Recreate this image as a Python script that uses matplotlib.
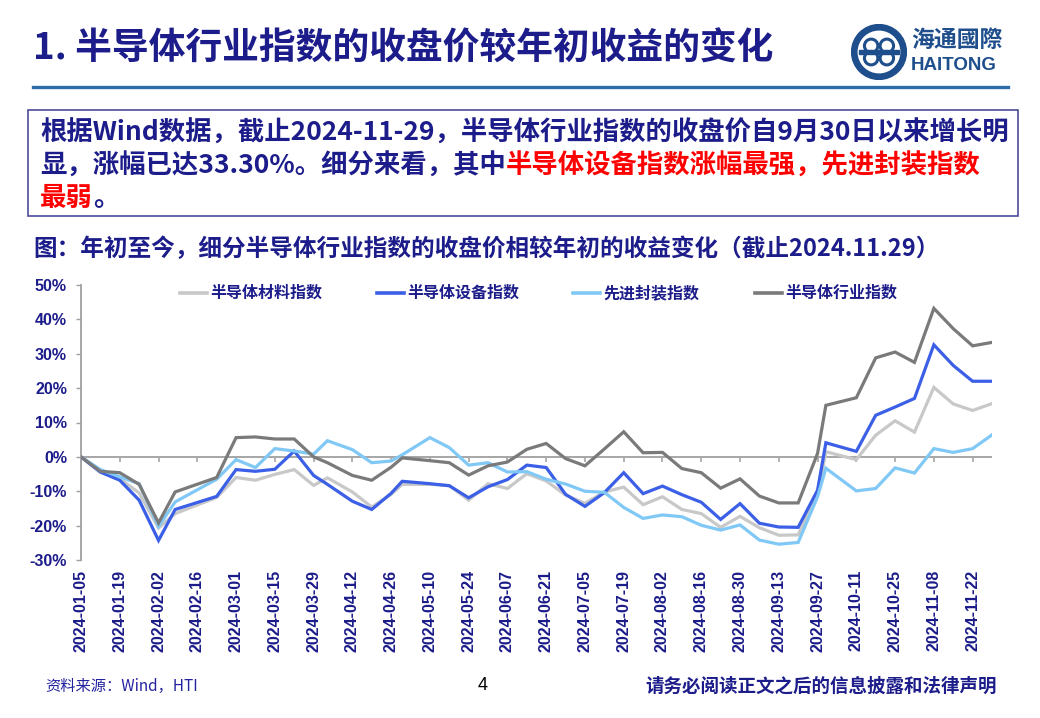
import matplotlib
matplotlib.use('Agg')
import matplotlib.pyplot as plt
import matplotlib.dates as mdates
from matplotlib.lines import Line2D
from matplotlib.patches import Rectangle, Circle
import numpy as np
import datetime as dt

# ---------------- data ----------------
dates = ['2024-01-05', '2024-01-12', '2024-01-19', '2024-01-26', '2024-02-02', '2024-02-08',
         '2024-02-23', '2024-03-01', '2024-03-08', '2024-03-15', '2024-03-22', '2024-03-29',
         '2024-04-03', '2024-04-12', '2024-04-19', '2024-04-26', '2024-04-30', '2024-05-10',
         '2024-05-17', '2024-05-24', '2024-05-31', '2024-06-07', '2024-06-14', '2024-06-21',
         '2024-06-28', '2024-07-05', '2024-07-12', '2024-07-19', '2024-07-26', '2024-08-02',
         '2024-08-09', '2024-08-16', '2024-08-23', '2024-08-30', '2024-09-06', '2024-09-13',
         '2024-09-20', '2024-09-27', '2024-09-30', '2024-10-11', '2024-10-18', '2024-10-25',
         '2024-11-01', '2024-11-08', '2024-11-15', '2024-11-22', '2024-11-29']

materials = [0, -4.5, -6.3, -10.5, -20.7, -16.5, -11.8, -6.0, -6.8, -5.1, -3.7, -8.3,
             -6.1, -10.2, -14.6, -10.9, -8.0, -8.0, -8.3, -12.6, -7.8, -9.2, -4.9, -7.0,
             -11.1, -13.5, -10.2, -8.8, -13.9, -11.6, -15.3, -16.5, -20.5, -17.3, -20.6, -22.8,
             -22.7, -10.8, 1.5, -0.8, 6.3, 10.5, 7.2, 20.2, 15.4, 13.5, 15.5]
equipment = [0, -4.4, -6.8, -12.6, -24.3, -15.3, -11.5, -3.7, -4.2, -3.6, 1.7, -5.4,
             -8.0, -12.9, -15.3, -10.6, -7.1, -7.8, -8.4, -11.9, -8.7, -6.6, -2.4, -3.1,
             -10.9, -14.4, -10.4, -4.6, -10.7, -8.5, -11.0, -13.2, -18.2, -13.6, -19.3, -20.4,
             -20.5, -9.7, 4.1, 1.6, 12.1, 14.5, 17.0, 32.6, 26.6, 22.0, 22.0]
packaging = [0, -3.7, -5.8, -7.8, -20.2, -13.1, -6.5, -0.8, -3.1, 2.4, 1.7, 0.8,
             4.7, 2.1, -1.7, -1.2, 0.6, 5.6, 2.7, -2.4, -1.7, -4.4, -4.3, -6.5,
             -7.9, -10.0, -10.3, -14.7, -17.9, -16.9, -17.4, -19.9, -21.3, -19.8, -24.2, -25.4,
             -24.9, -11.6, -3.3, -9.9, -9.2, -3.2, -4.7, 2.4, 1.3, 2.4, 6.4]
industry = [0, -4.2, -4.6, -8.0, -19.2, -10.2, -6.0, 5.6, 5.8, 5.2, 5.2, 0.0,
            -1.7, -5.4, -6.8, -3.0, -0.3, -1.1, -1.7, -5.3, -2.6, -1.5, 2.2, 3.9,
            -0.5, -2.6, 2.3, 7.3, 1.2, 1.3, -3.4, -4.6, -9.1, -6.4, -11.4, -13.4,
            -13.4, 1.0, 15.0, 17.2, 28.8, 30.5, 27.5, 43.2, 37.3, 32.3, 33.3]

series_names = ['半导体材料指数', '半导体设备指数', '先进封装指数', '半导体行业指数']
series_values = [materials, equipment, packaging, industry]
series_colors = ['#C8C8C8', '#3B5FE6', '#80C8F5', '#7A7A7A']

yticks = [-30, -20, -10, 0, 10, 20, 30, 40, 50]
tick_start = '2024-01-05'
tick_end = '2024-11-22'
tick_step_days = 14

title = '1. 半导体行业指数的收盘价较年初收益的变化'
subtitle = '图：年初至今，细分半导体行业指数的收盘价相较年初的收益变化（截止2024.11.29）'
box_lines = [
    [('根据Wind数据，截止2024-11-29，半导体行业指数的收盘价自9月30日以来增长明', 'n')],
    [('显，涨幅已达33.30%。细分来看，其中', 'n'), ('半导体设备指数涨幅最强，先进封装指数', 'r')],
    [('最弱', 'r'), ('。', 'n')],
]
source = '资料来源：Wind，HTI'
page_no = '4'
disclaimer = '请务必阅读正文之后的信息披露和法律声明'

# ---------------- style ----------------
W, H = 1040, 718
NAVY = '#1C1C8A'
RED = '#FF0000'
CJK = ['Noto Sans CJK SC', 'DejaVu Sans']
LAT = ['Liberation Sans', 'DejaVu Sans']

fig = plt.figure(figsize=(W / 100, H / 100), dpi=100)
fig.patch.set_facecolor('white')


def fx(x):
    return x / W


def fy(y):
    return 1 - y / H


# title
fig.text(fx(33), fy(49), title, fontsize=26.5, fontweight='bold', color=NAVY,
         family=CJK, va='center', ha='left')
# rule under title
fig.add_artist(Line2D([fx(33), fx(1008)], [fy(87), fy(87)], color='#2F6DA8', lw=2.4))

# logo
lax = fig.add_axes([fx(851), fy(80), 56 / W, 56 / H])
lax.set_xlim(-1, 1)
lax.set_ylim(-1, 1)
lax.set_aspect('equal')
lax.axis('off')
LOGO = '#1E4E8C'
lax.add_patch(Circle((0, 0), 0.98, color=LOGO))
lax.add_patch(Circle((0, 0), 0.74, color='white'))
for cx, cy in [(-0.28, 0.22), (0.28, 0.22), (-0.28, -0.22), (0.28, -0.22)]:
    lax.add_patch(Circle((cx, cy), 0.24, fill=False, ec=LOGO, lw=2.2))
lax.add_patch(Rectangle((-0.7, -0.06), 1.4, 0.12, color=LOGO))
fig.text(fx(911), fy(40), '海通國際', fontsize=16.5, fontweight='bold', color=LOGO,
         family=CJK, va='center', ha='left')
fig.text(fx(911), fy(66), 'HAITONG', fontsize=13.5, fontweight='bold', color=LOGO,
         family=LAT, va='center', ha='left')

# text box
fig.add_artist(Rectangle((fx(28), fy(216)), fx(1018) - fx(28), fy(110) - fy(216),
                         fill=False, ec='#4B4B9B', lw=1.2, transform=fig.transFigure))
renderer = fig.canvas.get_renderer()
line_y = [133, 166, 198]
for segs, y in zip(box_lines, line_y):
    x = 40
    for s, c in segs:
        t = fig.text(fx(x), fy(y), s, fontsize=19.0, fontweight='bold',
                     color=(NAVY if c == 'n' else RED), family=CJK, va='center', ha='left')
        x += t.get_window_extent(renderer).width

# subtitle
fig.text(fx(33), fy(249), subtitle, fontsize=17, fontweight='bold', color=NAVY,
         family=CJK, va='center', ha='left')

# ---------------- chart ----------------
ax = fig.add_axes([fx(81), fy(560), (992 - 81) / W, (560 - 285) / H])
xd = [mdates.date2num(dt.datetime.strptime(d, '%Y-%m-%d')) for d in dates]
for vals, c in zip(series_values, series_colors):
    ax.plot(xd, vals, color=c, lw=2.3, solid_joinstyle='miter', zorder=3)

ax.set_ylim(yticks[0], yticks[-1])
ax.set_yticks(yticks)
ax.set_yticklabels(['{}%'.format(v) for v in yticks])
ax.set_xlim(xd[0], xd[-1])

t0 = dt.datetime.strptime(tick_start, '%Y-%m-%d')
t1 = dt.datetime.strptime(tick_end, '%Y-%m-%d')
ticks = []
t = t0
while t <= t1:
    ticks.append(t)
    t += dt.timedelta(days=tick_step_days)
tick_nums = [mdates.date2num(t) for t in ticks]
ax.set_xticks(tick_nums)
ax.set_xticklabels([t.strftime('%Y-%m-%d') for t in ticks], rotation=90)

for s in ['top', 'right', 'bottom']:
    ax.spines[s].set_visible(False)
ax.spines['left'].set_color('#A0A0A0')
ax.spines['left'].set_linewidth(1.3)
ax.tick_params(axis='x', length=0, pad=7)
ax.tick_params(axis='y', length=3.6, width=1.0, color='#A0A0A0', pad=6.5)
for lab in ax.get_xticklabels():
    lab.set_fontfamily(LAT)
    lab.set_fontweight('bold')
    lab.set_fontsize(11.5)
    lab.set_color(NAVY)
    lab.set_va('top')
for lab in ax.get_yticklabels():
    lab.set_fontfamily(LAT)
    lab.set_fontweight('bold')
    lab.set_fontsize(11.5)
    lab.set_color(NAVY)

# category axis line at 0 with tick marks
ax.axhline(0, color='#A6A6A6', lw=1.4, zorder=2)
tick_len = (yticks[-1] - yticks[0]) / 275 * 5
ax.vlines(tick_nums, -tick_len, 0, color='#A6A6A6', lw=1.2, zorder=2)
ax.patch.set_alpha(0)

# legend (manual)
leg_line_x = [180, 377, 573, 755]
for name, c, lx in zip(series_names, series_colors, leg_line_x):
    fig.add_artist(Line2D([fx(lx), fx(lx + 27)], [fy(293), fy(293)], color=c, lw=2.6))
    fig.text(fx(lx + 30), fy(293), name, fontsize=11.5, fontweight='bold', color=NAVY,
             family=CJK, va='center', ha='left')

# footer
fig.text(fx(45), fy(686), source, fontsize=11, color='#2323A0', family=CJK,
         va='center', ha='left')
fig.text(fx(483), fy(686), page_no, fontsize=13, color='black', family=LAT,
         va='center', ha='center')
fig.text(fx(645), fy(686), disclaimer, fontsize=13.3, fontweight='bold', color=NAVY,
         family=CJK, va='center', ha='left')

fig.savefig('out.png', dpi=100)
